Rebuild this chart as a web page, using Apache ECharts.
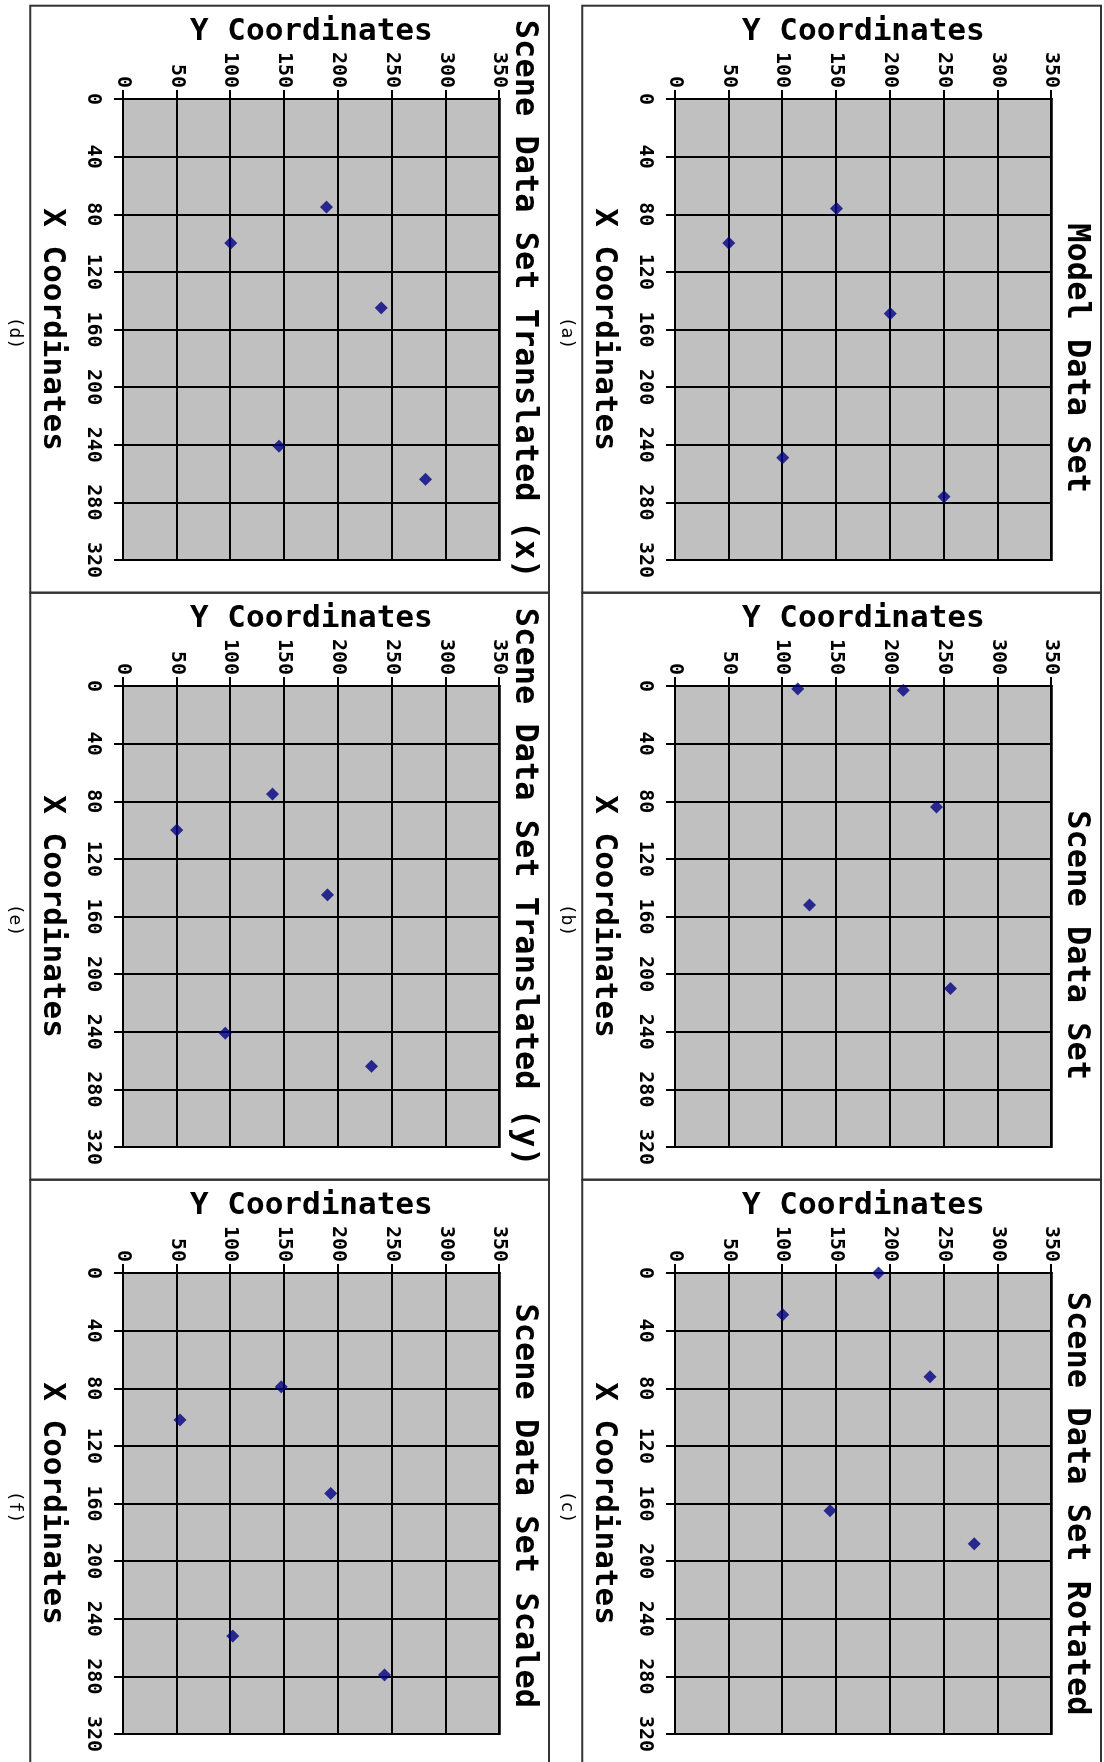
<!DOCTYPE html>
<html>
<head>
<meta charset="utf-8">
<title>Model and scene data sets</title>
<script src="https://cdn.jsdelivr.net/npm/echarts@6/dist/echarts.min.js"></script>
<style>
  html, body { margin: 0; padding: 0; background: #fff; overflow: hidden; }
  #page { position: absolute; left: 0; top: 0; width: 1104px; height: 1762px; overflow: hidden; background: #fff; }
  /* the figure is laid out landscape and turned a quarter turn clockwise onto the portrait page */
  #chart { position: absolute; left: 0; top: 0; width: 1762px; height: 1104px;
           transform-origin: 0 0; transform: translate(1104px, 0) rotate(90deg); }
</style>
</head>
<body>
<div id="page"><div id="chart"></div></div>
<script>
// ---- data -------------------------------------------------------------
const panelTitles = [
  'Model Data Set',
  'Scene Data Set',
  'Scene Data Set Rotated',
  'Scene Data Set Translated (x)',
  'Scene Data Set Translated (y)',
  'Scene Data Set Scaled'
];
const panelCaptions = ['(a)', '(b)', '(c)', '(d)', '(e)', '(f)'];

const modelX      = [76, 100, 149, 249, 276];
const modelY      = [150, 50, 200, 100, 250];
const sceneX      = [2, 3, 84, 152, 210];
const sceneY      = [114, 212, 243, 125, 256];
const rotatedX    = [0, 29, 72, 165, 188];
const rotatedY    = [189, 100, 237, 144, 278];
const transXX     = [75, 100, 145, 241, 264];
const transXY     = [189, 100, 240, 145, 281];
const transYX     = [75, 100, 145, 241, 264];
const transYY     = [139, 50, 190, 95, 231];
const scaledX     = [79, 102, 153, 252, 279];
const scaledY     = [147, 53, 193, 102, 243];

const xAxisMin = 0, xAxisMax = 320, xAxisStep = 40;
const yAxisMin = 0, yAxisMax = 350, yAxisStep = 50;
const xAxisTitle = 'X Coordinates';
const yAxisTitle = 'Y Coordinates';

const panelX = [modelX, sceneX, rotatedX, transXX, transYX, scaledX];
const panelY = [modelY, sceneY, rotatedY, transXY, transYY, scaledY];

// ---- layout -----------------------------------------------------------
const FONT = '"DejaVu Sans Mono", "Liberation Mono", monospace';
const WEIGHT = 'bold';
const CELL_W = 587, CELL_H = 552;
const BOX_X0 = 5.7, BOX_Y0 = 3, BOX_W = 587, BOX_H = 518.7;
const PLOT_DX = 93.3, PLOT_DY = 49.3, PLOT_W = 461, PLOT_H = 376.7;
// horizontal centre of each chart title, measured from the left edge of its box
const titleCenters = [352.5, 352.5, 324, 293.5, 294.5, 326];

const grids = [], xAxes = [], yAxes = [], series = [], graphics = [];

panelTitles.forEach((title, i) => {
  const col = i % 3, row = Math.floor(i / 3);
  const bx = BOX_X0 + CELL_W * col;
  const by = BOX_Y0 + CELL_H * row;
  const gl = bx + PLOT_DX, gt = by + PLOT_DY;

  grids.push({
    left: gl, top: gt, width: PLOT_W, height: PLOT_H,
    show: true, backgroundColor: '#c0c0c0', borderColor: '#000', borderWidth: 2,
    containLabel: false
  });

  xAxes.push({
    type: 'value', gridIndex: i, min: xAxisMin, max: xAxisMax, interval: xAxisStep,
    position: 'bottom',
    name: xAxisTitle, nameLocation: 'middle', nameGap: 55,
    nameTextStyle: { fontFamily: FONT, fontWeight: WEIGHT, fontSize: 31, color: '#000' },
    axisLine: { show: true, lineStyle: { color: '#000', width: 2 } },
    axisTick: { show: true, inside: false, length: 9, lineStyle: { color: '#000', width: 2 } },
    axisLabel: { margin: 20, fontFamily: FONT, fontWeight: WEIGHT, fontSize: 20, color: '#000' },
    splitLine: { show: true, lineStyle: { color: '#000', width: 2 } }
  });

  yAxes.push({
    type: 'value', gridIndex: i, min: yAxisMin, max: yAxisMax, interval: yAxisStep,
    position: 'left',
    name: yAxisTitle, nameLocation: 'middle', nameGap: 52, nameRotate: 90,
    nameTextStyle: { fontFamily: FONT, fontWeight: WEIGHT, fontSize: 31, color: '#000' },
    axisLine: { show: true, lineStyle: { color: '#000', width: 2 } },
    axisTick: { show: true, inside: false, length: 9, lineStyle: { color: '#000', width: 2 } },
    axisLabel: { margin: 11, fontFamily: FONT, fontWeight: WEIGHT, fontSize: 20, color: '#000' },
    splitLine: { show: true, lineStyle: { color: '#000', width: 2 } }
  });

  series.push({
    type: 'scatter', xAxisIndex: i, yAxisIndex: i, clip: false,
    symbol: 'diamond', symbolSize: 13,
    itemStyle: { color: '#000080' },
    data: panelX[i].map((x, k) => [x, panelY[i][k]])
  });

  // frame round each chart
  graphics.push({
    type: 'rect', silent: true, z: 100,
    shape: { x: bx, y: by, width: BOX_W, height: BOX_H },
    style: { fill: 'none', stroke: '#333', lineWidth: 2 }
  });
  // chart title
  graphics.push({
    type: 'text', silent: true, z: 101,
    x: bx + titleCenters[i], y: by + 25,
    style: { text: title, fontFamily: FONT, fontWeight: WEIGHT, fontSize: 32, fill: '#000',
             textAlign: 'center', textVerticalAlign: 'middle' }
  });
  // caption under the frame
  graphics.push({
    type: 'text', silent: true, z: 101,
    x: gl + PLOT_W / 2 + 3.5, y: gt + PLOT_H + 108,
    style: { text: panelCaptions[i], fontFamily: FONT, fontSize: 18, fill: '#000',
             textAlign: 'center', textVerticalAlign: 'middle' }
  });
});

const chart = echarts.init(document.getElementById('chart'), null, { renderer: 'canvas', width: 1762, height: 1104 });
chart.setOption({
  animation: false,
  backgroundColor: '#fff',
  grid: grids,
  xAxis: xAxes,
  yAxis: yAxes,
  series: series,
  graphic: { elements: graphics }
});
</script>
</body>
</html>
